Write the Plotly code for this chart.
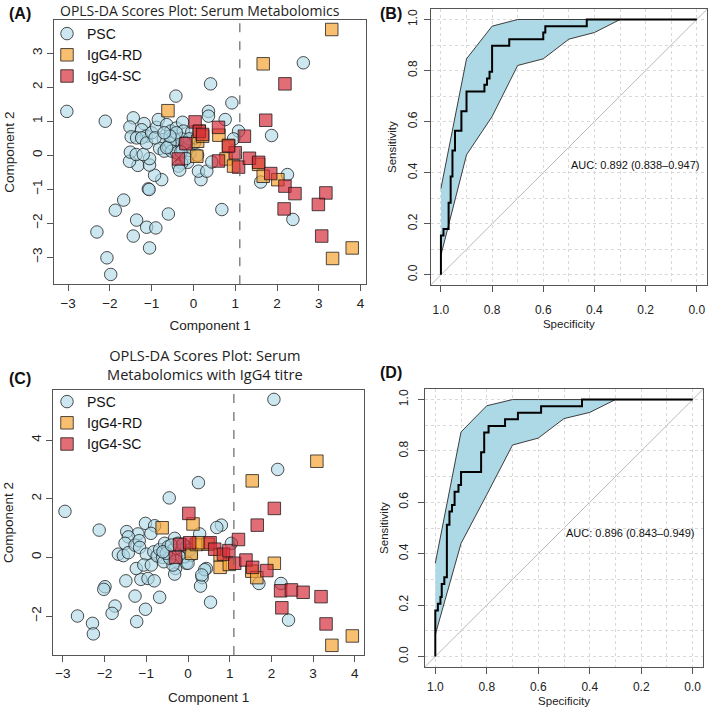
import plotly.graph_objects as go

W, H = 709, 712

# ---------------- Panel A data (Component 1, Component 2) ----------------
psc_a_x = [-3.03, -2.11, 0.41, -0.42, 2.63, 0.36, 0.36, 0.92, 0.76, 1.08, 0.96, 1.87, 1.61, 2.25, 2.38,
           0.68, 0.18, 0.12, 0.32, 0.44, -0.76, -0.93, -0.60, -1.08, -1.06, -1.67, -1.87, -2.31, -2.07,
           -1.98, -1.36, -1.44, -1.12, -0.90, -1.05, -1.33, -1.05, -1.05, -1.53, -1.51, -1.37, -1.20,
           -1.44, -1.52, -1.18, -1.24, -1.13, -1.49, -1.36, -1.24, -1.12, -1.00, -0.88, -0.84, -0.64,
           -0.54, -0.72, -0.81, -0.70, -0.60, -0.48, -0.41, -0.26, -0.24, -0.28, -0.36, -0.44, -0.56,
           -0.52, -0.40, -0.26, -0.12, -0.08, -0.14, -0.28, -0.36, -0.33, 0.02, 0.04, -0.04, -0.10,
           -0.20, -0.64, -0.92, -0.41, -0.56, -0.70, -0.30, -0.18, 0.10]
psc_a_y = [1.29, 1.00, 2.10, 1.74, 2.72, 1.29, 1.15, 1.54, 1.05, 0.71, 0.48, 0.58, -0.79, -0.57, -1.89,
           -1.60, -0.72, -0.47, -0.47, -0.20, -0.72, -0.59, -1.73, -0.99, -1.01, -1.32, -1.62, -2.26, -3.02,
           -3.51, -1.91, -2.38, -2.12, -2.14, -2.73, -0.30, -0.29, -0.10, -0.18, 0.09, 0.02, 0.02,
           1.10, 0.83, 0.93, 0.75, 0.56, 0.54, 0.51, 0.51, 0.36, 0.66, 0.82, 1.05, 0.90,
           0.71, 0.46, 0.20, 0.12, 0.26, 0.56, 0.80, 0.97, 0.71, 0.48, 0.26, 0.46, 0.36,
           0.12, 0.07, 0.15, 0.26, 0.05, -0.21, -0.23, -0.32, -0.44, 0.36, 0.51, 0.68, 0.48,
           0.36, 0.22, 0.51, 0.66, 0.56, 0.66, 0.10, -0.10, 0.00]
rd_a_x = [-0.61, 3.31, 1.67, 3.80, 3.33, 0.61, 0.84, 0.78, 0.96, 1.56, 1.67, 2.02, 0.08, 0.10, 0.14, 0.22]
rd_a_y = [1.31, 3.70, 2.69, -2.73, -3.04, 0.59, 0.29, -0.11, -0.32, -0.27, -0.62, -0.72, -0.03, 0.41, 0.71, 0.56]
sc_a_x = [2.19, 1.73, 0.04, 0.14, 0.22, 0.60, 1.22, 0.60, 1.00, 1.08, 1.34, 1.56, 1.85, 2.19, 2.43,
          3.17, 2.99, 2.17, 3.07, -0.18, -0.36, 0.84]
sc_a_y = [2.10, 1.03, 0.98, 0.70, 0.61, 0.82, 0.56, -0.17, 0.07, -0.35, -0.09, -0.21, -0.54, -0.91, -1.13,
          -1.11, -1.45, -1.58, -2.38, 0.34, -0.11, 0.27]
ticks_a_x = [-3, -2, -1, 0, 1, 2, 3, 4]
ticks_a_y = [-3, -2, -1, 0, 1, 2, 3]

# ---------------- Panel C data ----------------
psc_c_x = [-2.95, -2.13, -2.65, -2.29, -2.27, -1.99, -2.02, -1.75, -1.82, -1.49, -1.27, -1.23, -1.02,
           -1.13, -0.96, -0.81, -0.68, -0.45, 0.25, 2.06, 2.15, 2.23, 2.41, 1.70, 1.04, 0.80, 0.69, 0.28,
           0.44, 0.34, 0.30, 0.54, -0.04, -1.02, -0.80, -0.89, -1.20, -1.47, -1.43, -1.51, -1.67, -1.55,
           -1.43, -1.27, -1.17, -1.16, -1.00, -1.24, -1.06, -0.88, -0.82, -0.74, -0.61, -0.58, -0.68,
           -0.56, -0.48, -0.36, -0.32, -0.24, -0.16, -0.08, -0.04, -0.28, -0.30, -0.32, -0.36, -0.44,
           -0.52, -0.60, -0.40, -0.12, 0.04, 0.08, 0.00, 0.40, 0.33]
psc_c_y = [1.57, 0.93, -2.00, -2.25, -2.61, -1.00, -1.09, -1.66, -1.91, -0.80, -1.32, -2.19, -1.77,
           -0.75, -0.72, -0.80, -1.36, 2.03, 2.55, 5.39, 3.00, -0.89, -2.14, -0.89, 0.48, 1.10, 1.02, 0.80,
           -0.38, -0.69, -0.98, -1.53, -0.20, 1.16, 1.08, 0.82, 0.80, 0.88, 0.70, 0.48, 0.11, 0.06,
           0.16, 0.42, 0.57, 0.34, 0.11, -0.38, -0.26, -0.26, 0.19, 0.05, 0.00, -0.15, 0.27,
           0.48, 0.36, 0.25, 0.65, 0.48, 0.25, 0.02, 0.36, -0.11, -0.38, -0.57, -0.26, -0.03,
           0.14, 0.19, 0.42, 0.45, 0.25, 0.08, -0.20, -0.42, -0.60]
rd_c_x = [-0.62, 0.12, 0.08, 0.20, 0.48, 0.77, 0.77, 0.99, 1.53, 1.65, 2.07, 1.54, 3.09, 3.94, 3.45, 0.25]
rd_c_y = [1.01, 1.14, 0.14, 0.44, 0.45, 0.08, -0.34, -0.24, -0.47, -0.69, -0.20, 2.61, 3.28, -2.68, -3.00, 0.50]
sc_c_x = [0.02, -0.20, 0.04, 0.53, 0.64, 0.85, 0.98, 1.12, 1.21, 1.39, 1.55, 1.89, 2.07, 1.66, 2.22,
          2.48, 2.76, 3.19, 2.25, 3.31, -0.30]
sc_c_y = [1.50, 0.44, 0.50, 0.50, 0.28, 0.11, 0.23, -0.20, 0.61, -0.09, -0.34, -0.45, 1.67, 1.10, -1.14,
          -1.11, -1.19, -1.34, -1.72, -2.27, 0.00]
ticks_c_x = [-3, -2, -1, 0, 1, 2, 3, 4]
ticks_c_y = [-2, 0, 2, 4]

THRESH_A = 1.11
THRESH_C = 1.10

# ---------------- ROC data (B) ----------------
roc_b_spec = [1.0, 1.0, 0.99, 0.99, 0.97, 0.97, 0.962, 0.962, 0.955, 0.955, 0.945, 0.945, 0.92, 0.92,
              0.90, 0.90, 0.83, 0.83, 0.82, 0.82, 0.81, 0.81, 0.80, 0.80, 0.733, 0.733, 0.60, 0.60,
              0.592, 0.592, 0.43, 0.43, 0.0]
roc_b_sens = [0.0, 0.154, 0.154, 0.179, 0.179, 0.282, 0.282, 0.385, 0.385, 0.487, 0.487, 0.564, 0.564,
              0.641, 0.641, 0.718, 0.718, 0.744, 0.744, 0.769, 0.769, 0.795, 0.795, 0.897, 0.897, 0.923,
              0.923, 0.949, 0.949, 0.974, 0.974, 1.0, 1.0]
ci_b_spec = [1.0, 0.9, 0.8, 0.7, 0.6, 0.5, 0.4, 0.3, 0.2, 0.1, 0.0]
ci_b_low = [0.077, 0.47, 0.62, 0.82, 0.846, 0.923, 0.949, 1.0, 1.0, 1.0, 1.0]
ci_b_high = [0.338, 0.846, 0.974, 1.0, 1.0, 1.0, 1.0, 1.0, 1.0, 1.0, 1.0]
AUC_B = "AUC: 0.892 (0.838–0.947)"

# ---------------- ROC data (D) ----------------
roc_d_spec = [1.0, 1.0, 0.99, 0.99, 0.98, 0.98, 0.975, 0.975, 0.965, 0.965, 0.955, 0.955, 0.945, 0.945,
              0.935, 0.935, 0.925, 0.925, 0.91, 0.91, 0.90, 0.90, 0.822, 0.822, 0.81, 0.81, 0.793, 0.793,
              0.729, 0.729, 0.679, 0.679, 0.589, 0.589, 0.43, 0.43, 0.0]
roc_d_sens = [0.0, 0.179, 0.179, 0.205, 0.205, 0.231, 0.231, 0.282, 0.282, 0.308, 0.308, 0.513, 0.513,
              0.564, 0.564, 0.59, 0.59, 0.641, 0.641, 0.667, 0.667, 0.718, 0.718, 0.795, 0.795, 0.872,
              0.872, 0.897, 0.897, 0.923, 0.923, 0.949, 0.949, 0.974, 0.974, 1.0, 1.0]
ci_d_spec = [1.0, 0.9, 0.8, 0.7, 0.6, 0.5, 0.4, 0.3, 0.2, 0.1, 0.0]
ci_d_low = [0.085, 0.44, 0.63, 0.823, 0.85, 0.926, 0.95, 1.0, 1.0, 1.0, 1.0]
ci_d_high = [0.363, 0.874, 0.976, 1.0, 1.0, 1.0, 1.0, 1.0, 1.0, 1.0, 1.0]
AUC_D = "AUC: 0.896 (0.843–0.949)"

GROUPS = ["PSC", "IgG4-RD", "IgG4-SC"]

# ---------------- styles ----------------
FILL_PSC = "rgba(173,216,230,0.62)"
FILL_RD = "rgba(246,160,45,0.68)"
FILL_SC = "rgba(212,40,55,0.68)"
EDGE = "rgba(20,20,20,0.75)"
FONT = "Liberation Sans, Arial, sans-serif"
TFONT = "Open Sans, Noto Sans, sans-serif"


def px2x(p):
    return p / W


def px2y(p):
    return 1 - p / H


fig = go.Figure()


def add_scatter(xs, ys, name, sym, fill, xa, ya, legend):
    fig.add_trace(go.Scatter(
        x=xs, y=ys, mode="markers", name=name, xaxis=xa, yaxis=ya,
        legend=legend, showlegend=True,
        marker=dict(symbol=sym, size=12.5, color=fill, line=dict(color=EDGE, width=1)),
    ))


add_scatter(psc_a_x, psc_a_y, GROUPS[0], "circle", FILL_PSC, "x", "y", "legend")
add_scatter(rd_a_x, rd_a_y, GROUPS[1], "square", FILL_RD, "x", "y", "legend")
add_scatter(sc_a_x, sc_a_y, GROUPS[2], "square", FILL_SC, "x", "y", "legend")

add_scatter(psc_c_x, psc_c_y, GROUPS[0], "circle", FILL_PSC, "x3", "y3", "legend2")
add_scatter(rd_c_x, rd_c_y, GROUPS[1], "square", FILL_RD, "x3", "y3", "legend2")
add_scatter(sc_c_x, sc_c_y, GROUPS[2], "square", FILL_SC, "x3", "y3", "legend2")


def add_roc(spec, sens, cspec, clow, chigh, xa, ya):
    bx = list(cspec) + list(cspec)[::-1]
    by = list(chigh) + list(clow)[::-1]
    fig.add_trace(go.Scatter(x=bx, y=by, mode="lines", fill="toself",
                             fillcolor="rgb(173,216,230)", line=dict(color="rgb(60,60,60)", width=1),
                             xaxis=xa, yaxis=ya, showlegend=False, hoverinfo="skip"))
    fig.add_trace(go.Scatter(x=spec, y=sens, mode="lines", line=dict(color="black", width=2),
                             xaxis=xa, yaxis=ya, showlegend=False))


add_roc(roc_b_spec, roc_b_sens, ci_b_spec, ci_b_low, ci_b_high, "x2", "y2")
add_roc(roc_d_spec, roc_d_sens, ci_d_spec, ci_d_low, ci_d_high, "x4", "y4")

# domains (pixel boxes)
dom = {
    "A": ([54.3, 366.0], [20.0, 284.3]),
    "B": ([430.7, 707.0], [9.3, 285.0]),
    "C": ([53.3, 364.0], [390.0, 655.0]),
    "D": ([425.0, 703.0], [389.3, 666.7]),
}


def xd(k):
    a, b = dom[k][0]
    return [px2x(a), px2x(b)]


def yd(k):
    a, b = dom[k][1]
    return [px2y(b), px2y(a)]


box = dict(showline=True, linecolor="#555", linewidth=1, mirror=True, zeroline=False,
           ticks="outside", ticklen=6, tickcolor="#555")

sc_tick = dict(family=FONT, size=13.5, color="#222")
roc_tick = dict(family=FONT, size=12, color="#222")
ax_title = dict(family=FONT, size=13.5, color="#222")

layout = dict(
    width=W, height=H, margin=dict(l=0, r=0, t=0, b=0),
    paper_bgcolor="white", plot_bgcolor="white",
    xaxis=dict(domain=xd("A"), range=[-3.33, 4.13], tickmode="array", tickvals=ticks_a_x, anchor="y",
               showgrid=False, title=dict(text="Component 1", font=ax_title, standoff=11),
               tickfont=sc_tick, **box),
    yaxis=dict(domain=yd("A"), range=[-3.80, 3.98], tickmode="array", tickvals=ticks_a_y, anchor="x",
               tickangle=-90, showgrid=False, title=dict(text="Component 2", font=ax_title, standoff=12),
               tickfont=sc_tick, **box),
    xaxis3=dict(domain=xd("C"), range=[-3.23, 4.22], tickmode="array", tickvals=ticks_c_x, anchor="y3",
                showgrid=False, title=dict(text="Component 1", font=ax_title, standoff=12),
                tickfont=sc_tick, **box),
    yaxis3=dict(domain=yd("C"), range=[-3.33, 5.71], tickmode="array", tickvals=ticks_c_y, anchor="x3",
                tickangle=-90, showgrid=False, title=dict(text="Component 2", font=ax_title, standoff=12),
                tickfont=sc_tick, **box),
)

roc_cfg = {"B": dict(xstand=3, xts=8, ystand=6, yts=2), "D": dict(xstand=3, xts=3, ystand=6, yts=5)}
for xa, ya, k in (("xaxis2", "yaxis2", "B"), ("xaxis4", "yaxis4", "D")):
    xn = "x" + xa[-1]
    yn = "y" + ya[-1]
    c = roc_cfg[k]
    grid = dict(showgrid=True, gridcolor="#d9d9d9", griddash="dot", gridwidth=1,
                minor=dict(dtick=0.1, tick0=0, showgrid=True, gridcolor="#d9d9d9", griddash="dot", ticks=""))
    layout[xa] = dict(domain=xd(k), range=[1.04, -0.04], dtick=0.2, tick0=0, anchor=yn, tickformat=".1f",
                      ticklabelstandoff=c["xts"],
                      title=dict(text="Specificity", font=dict(family=FONT, size=11.5, color="#222"),
                                 standoff=c["xstand"]),
                      tickfont=roc_tick, **grid, **box)
    layout[ya] = dict(domain=yd(k), range=[-0.04, 1.04], dtick=0.2, tick0=0, anchor=xn, tickangle=-90,
                      tickformat=".1f", ticklabelstandoff=c["yts"],
                      title=dict(text="Sensitivity", font=dict(family=FONT, size=11.5, color="#222"),
                                 standoff=c["ystand"]),
                      tickfont=roc_tick, **grid, **box)

leg_common = dict(bgcolor="rgba(0,0,0,0)", font=dict(family=FONT, size=14, color="#111"),
                  xanchor="left", yanchor="top", itemsizing="trace", tracegroupgap=0,
                  traceorder="normal")
layout["legend"] = dict(x=px2x(47), y=px2y(18), **leg_common)
layout["legend2"] = dict(x=px2x(47), y=px2y(386), **leg_common)

fig.update_layout(**layout)

# diagonal reference lines and thresholds
for k in ("2", "4"):
    fig.add_shape(type="line", xref=f"x{k} domain", yref=f"y{k} domain", x0=0, y0=0, x1=1, y1=1,
                  line=dict(color="#bbbbbb", width=1), layer="below")
fig.add_shape(type="line", xref="x", yref="y domain", x0=THRESH_A, x1=THRESH_A, y0=0, y1=1,
              line=dict(color="#666", width=1.2, dash="dash"))
fig.add_shape(type="line", xref="x3", yref="y3 domain", x0=THRESH_C, x1=THRESH_C, y0=0, y1=1,
              line=dict(color="#666", width=1.2, dash="dash"))

# texts
ann = []
ann.append(dict(text="OPLS-DA Scores Plot: Serum Metabolomics", x=px2x(200), y=px2y(0), xref="paper", yref="paper",
                showarrow=False, font=dict(family=TFONT, size=14, color="#222"), xanchor="center", yanchor="top",
                borderpad=0))
ann.append(dict(text="OPLS-DA Scores Plot: Serum<br>Metabolomics with IgG4 titre", x=px2x(205), y=px2y(365),
                xref="paper", yref="paper", showarrow=False, font=dict(family=TFONT, size=14.6, color="#222"),
                xanchor="center", yanchor="middle"))
for lab, xx, yy in (("(A)", 20, 14), ("(B)", 391, 14), ("(C)", 20, 378), ("(D)", 391, 372)):
    ann.append(dict(text=f"<b>{lab}</b>", x=px2x(xx), y=px2y(yy), xref="paper", yref="paper", showarrow=False,
                    font=dict(family=FONT, size=16, color="#111"), xanchor="center", yanchor="middle"))
ann.append(dict(text=AUC_B, x=0.5, y=0.43, xref="x2", yref="y2", showarrow=False, xanchor="left",
                yanchor="middle", font=dict(family=FONT, size=11, color="#111")))
ann.append(dict(text=AUC_D, x=0.5, y=0.48, xref="x4", yref="y4", showarrow=False, xanchor="left",
                yanchor="middle", font=dict(family=FONT, size=11, color="#111")))
fig.update_layout(annotations=ann)

fig.write_html("out.html", config={"displayModeBar": False},
               post_script="document.body.style.margin='0';document.body.style.overflow='hidden';")
